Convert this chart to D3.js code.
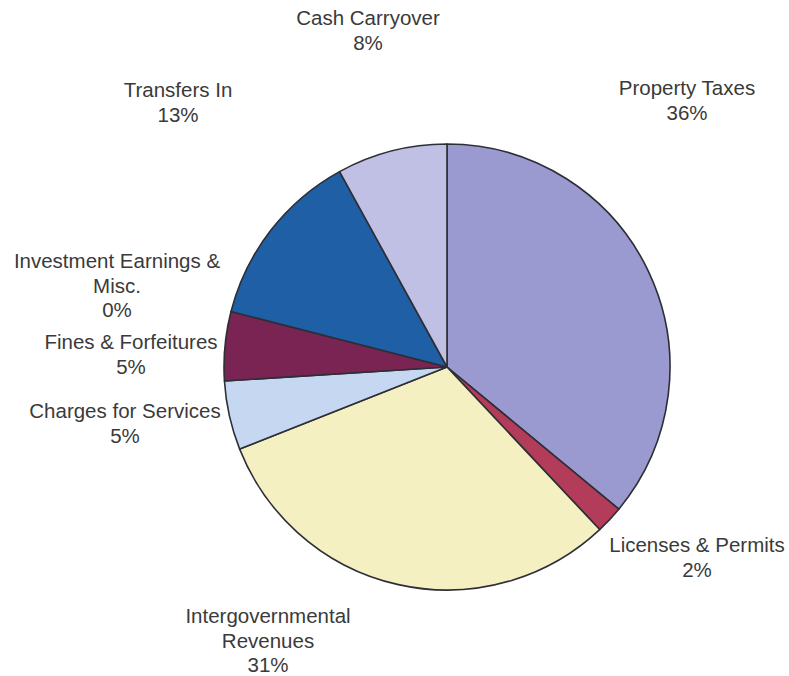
<!DOCTYPE html>
<html>
<head>
<meta charset="utf-8">
<script src="https://cdn.jsdelivr.net/npm/d3@7"></script>
<style>
  html, body { margin: 0; padding: 0; background: #ffffff; }
  svg { display: block; }
  .lbl { font-family: "Liberation Sans", Arial, sans-serif; font-size: 20.5px; fill: #3a3a3a; }
</style>
</head>
<body>
<svg id="chart" width="789" height="676"></svg>
<script>
// Revenue sources, clockwise from 12 o'clock
const categories = [
  "Property Taxes",
  "Licenses & Permits",
  "Intergovernmental Revenues",
  "Charges for Services",
  "Fines & Forfeitures",
  "Investment Earnings & Misc.",
  "Transfers In",
  "Cash Carryover"
];
const shares = [36, 2, 31, 5, 5, 0, 13, 8];   // percent of total revenue
const labelLines = [
  ["Property Taxes"],
  ["Licenses & Permits"],
  ["Intergovernmental", "Revenues"],
  ["Charges for Services"],
  ["Fines & Forfeitures"],
  ["Investment Earnings &", "Misc."],
  ["Transfers In"],
  ["Cash Carryover"]
];

// Slice fills
const sliceColors = ["#9a9ad0", "#b33c5a", "#f5f0c1", "#c6d8f1", "#7a2453", "#ff8080", "#1f5fa6", "#bfc0e4"];

// Where each label block is centred (x) and where its first baseline sits (y)
const labelAnchors = [
  [687, 95], [697, 552], [268, 623], [125, 418],
  [131, 349], [117, 268], [178, 97], [368, 25]
];
const lineStep = 24.5;

const svg = d3.select("#chart");
const cx = 447, cy = 367, radius = 223;

const data = categories.map((c, i) => ({ name: c, value: shares[i], i }));

const pie = d3.pie().sort(null).value(d => d.value).startAngle(0).endAngle(2 * Math.PI);
const arc = d3.arc().innerRadius(0).outerRadius(radius);
const color = d3.scaleOrdinal().domain(categories).range(sliceColors);

const g = svg.append("g").attr("transform", `translate(${cx},${cy})`);

g.selectAll("path.slice")
  .data(pie(data).filter(d => d.data.value > 0))
  .join("path")
  .attr("class", "slice")
  .attr("d", arc)
  .attr("fill", d => color(d.data.name))
  .attr("stroke", "#2e2e36")
  .attr("stroke-width", 1.6)
  .attr("stroke-linejoin", "round");

// Category labels with percentage on the last line
const fmt = v => `${v}%`;
const labels = svg.selectAll("text.lbl")
  .data(data)
  .join("text")
  .attr("class", "lbl")
  .attr("text-anchor", "middle")
  .attr("x", d => labelAnchors[d.i][0])
  .attr("y", d => labelAnchors[d.i][1]);

labels.each(function(d) {
  const t = d3.select(this);
  const lines = labelLines[d.i].concat([fmt(d.value)]);
  lines.forEach((ln, k) => {
    t.append("tspan")
      .attr("x", labelAnchors[d.i][0])
      .attr("dy", k === 0 ? 0 : lineStep)
      .text(ln);
  });
});
</script>
</body>
</html>
